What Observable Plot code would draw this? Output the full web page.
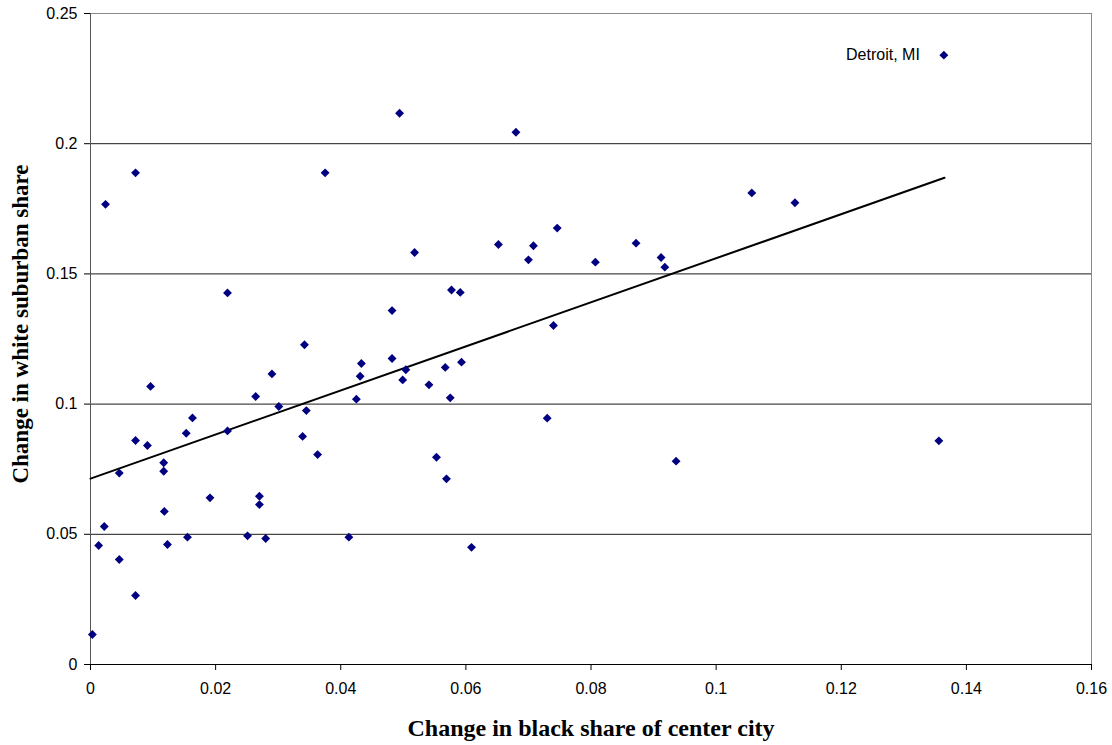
<!DOCTYPE html>
<html>
<head>
<meta charset="utf-8">
<script src="https://cdn.jsdelivr.net/npm/d3@7"></script>
<script src="https://cdn.jsdelivr.net/npm/@observablehq/plot@0.6"></script>
<style>
  html, body { margin: 0; padding: 0; background: #fff; }
</style>
</head>
<body>
<div id="chart"></div>
<script>
// Change in black share of center city (x) vs change in white suburban share (y)
const cityX = [0.0003,0.0013,0.0022,0.0024,0.0046,0.0046,0.0072,0.0072,0.0072,0.0091,
  0.0096,0.0117,0.0117,0.0118,0.0123,0.0153,0.0155,0.0163,0.0191,0.0219,
  0.0219,0.0251,0.0264,0.027,0.027,0.028,0.029,0.0301,0.0339,0.0342,
  0.0345,0.0363,0.0375,0.0413,0.0425,0.0431,0.0433,0.0482,0.0482,0.0494,
  0.068,0.0518,0.0652,0.0708,0.0746,0.07,0.0807,0.0872,0.0912,0.0918,
  0.0577,0.0591,0.074,0.0504,0.0499,0.0541,0.0567,0.0593,0.0575,0.073,
  0.0553,0.0569,0.0936,0.0609,0.1364,0.1057,0.1126,0.1356];
const cityY = [0.0115,0.0457,0.053,0.1767,0.0403,0.0735,0.0265,0.086,0.1888,0.0841,
  0.1068,0.0775,0.0742,0.0588,0.0461,0.0888,0.0489,0.0947,0.064,0.1427,
  0.0897,0.0494,0.1029,0.0646,0.0614,0.0484,0.1116,0.0991,0.0876,0.1228,
  0.0975,0.0806,0.1888,0.0489,0.1019,0.1107,0.1156,0.1359,0.1175,0.2117,
  0.2044,0.1582,0.1613,0.1608,0.1676,0.1554,0.1545,0.1618,0.1563,0.1526,
  0.1438,0.1429,0.1302,0.1132,0.1093,0.1074,0.1141,0.1161,0.1024,0.0946,
  0.0796,0.0713,0.0781,0.045,0.234,0.1811,0.1773,0.0859];

// Linear trend line endpoints
const trendX = [0, 0.1365];
const trendY = [0.0714, 0.1869];

// Labelled point
const labelText = ["Detroit, MI"];
const labelX = [0.1364];
const labelY = [0.234];

// Ticks
const xTicks = [0, 0.02, 0.04, 0.06, 0.08, 0.1, 0.12, 0.14, 0.16];
const yTicks = [0, 0.05, 0.1, 0.15, 0.2, 0.25];
const gridY = [0.05, 0.1, 0.15, 0.2];

const xTitle = "Change in black share of center city";
const yTitle = "Change in white suburban share";

const points = cityX.map((x, i) => ({x, y: cityY[i]}));
const trend = trendX.map((x, i) => ({x, y: trendY[i]}));
const labels = labelText.map((t, i) => ({t, x: labelX[i], y: labelY[i]}));

const serif = "'Liberation Serif', 'Times New Roman', serif";

const chart = Plot.plot({
  width: 1112,
  height: 745,
  marginLeft: 90,
  marginRight: 21,
  marginTop: 13,
  marginBottom: 81,
  style: {fontFamily: "'Liberation Sans', Arial, sans-serif", fontSize: "16px", background: "#fff", color: "#000"},
  x: {domain: [0, 0.16], axis: null},
  y: {domain: [0, 0.25], axis: null},
  marks: [
    Plot.ruleY(gridY, {stroke: "#1a1a1a", strokeWidth: 1}),
    Plot.ruleY([0.25], {stroke: "#8a8a8a", strokeWidth: 1}),
    Plot.ruleX([0.16], {stroke: "#8a8a8a", strokeWidth: 1}),
    Plot.axisY({ticks: yTicks, tickFormat: d => String(d), tickSize: 6, tickPadding: 7, fontSize: 16, label: null}),
    Plot.axisX({ticks: xTicks, tickFormat: d => String(d), tickSize: 6, tickPadding: 12, fontSize: 16, label: null}),
    Plot.ruleX([0], {stroke: "#555", strokeWidth: 1}),
    Plot.ruleY([0], {stroke: "#000", strokeWidth: 1}),
    Plot.line(trend, {x: "x", y: "y", stroke: "#000", strokeWidth: 2}),
    Plot.dot(points, {x: "x", y: "y", symbol: "diamond2", r: 4, fill: "#000080", stroke: "none"}),
    Plot.text(labels, {x: "x", y: "y", text: "t", textAnchor: "end", dx: -24, fontSize: 16, fill: "#000"}),
    Plot.text([xTitle], {frameAnchor: "bottom", lineAnchor: "middle", textAnchor: "middle", dy: 64, fontFamily: serif, fontWeight: "bold", fontSize: 24, fill: "#000"}),
    Plot.text([yTitle], {frameAnchor: "left", lineAnchor: "middle", textAnchor: "middle", dx: -70, dy: -15, rotate: -90, fontFamily: serif, fontWeight: "bold", fontSize: 23, fill: "#000"})
  ]
});
document.getElementById("chart").appendChild(chart);
</script>
</body>
</html>
